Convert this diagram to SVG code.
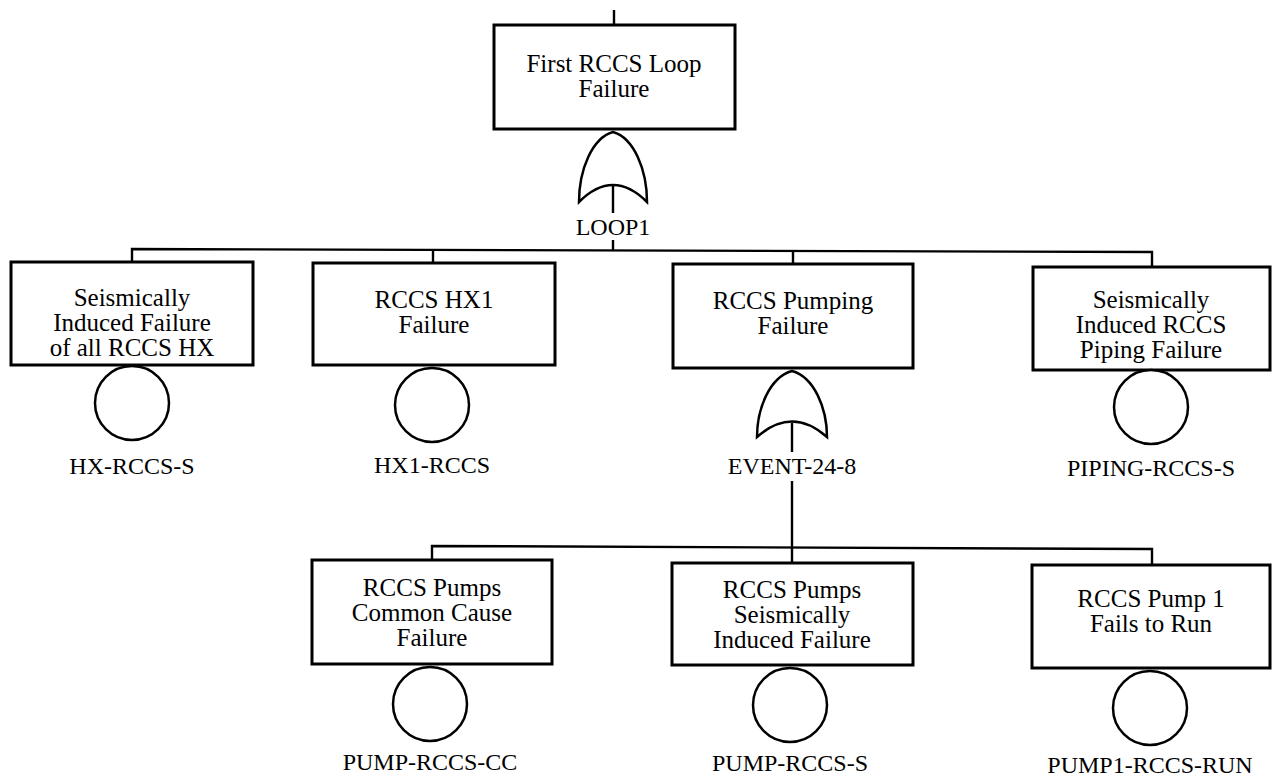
<svg xmlns="http://www.w3.org/2000/svg" width="1272" height="781" viewBox="0 0 1272 781">
<style>
.box{fill:#fff;stroke:#000;stroke-width:3}
.ev{fill:#fff;stroke:#000;stroke-width:2.5}
.gate{fill:#fff;stroke:#000;stroke-width:2.5}
.ln{fill:none;stroke:#000;stroke-width:2.4}
text{font-family:"Liberation Serif","Times New Roman",serif;font-size:25px;fill:#000;text-anchor:middle}
text.lb{font-size:24px}
</style>
<rect width="1272" height="781" fill="#fff"/>
<g id="connectors">
<line class="ln" x1="614" y1="10" x2="614" y2="25"/>
<line class="ln" x1="613" y1="185" x2="613" y2="213"/>
<line class="ln" x1="613" y1="240" x2="613" y2="250"/>
<polyline class="ln" points="132,262 132,249 1152,252 1152,267"/>
<line class="ln" x1="433" y1="249" x2="433" y2="263"/>
<line class="ln" x1="793" y1="251" x2="793" y2="264"/>
<line class="ln" x1="792" y1="423" x2="792" y2="452"/>
<line class="ln" x1="792" y1="481" x2="792" y2="547"/>
<polyline class="ln" points="432,560 432,546 1152,549 1152,565"/>
<line class="ln" x1="792" y1="547" x2="792" y2="563"/>
</g>
<g id="top">
<rect class="box" x="494" y="25" width="241" height="104"/>
<text x="614" y="72">First RCCS Loop</text>
<text x="614" y="97">Failure</text>
</g>
<g id="loop1">
<path class="gate" d="M579,202 C579,170 592,138 613,132 C634,138 647,170 647,202 Q613,168 579,202 Z"/>
<text class="lb" x="613" y="235">LOOP1</text>
</g>
<g id="b1">
<rect class="box" x="11" y="262" width="242" height="103"/>
<text x="132" y="306">Seismically</text>
<text x="132" y="331">Induced Failure</text>
<text x="132" y="356">of all RCCS HX</text>
</g>
<g id="hx-rccs-s">
<circle class="ev" cx="132" cy="403" r="37"/>
<text class="lb" x="132" y="474">HX-RCCS-S</text>
</g>
<g id="b2">
<rect class="box" x="313" y="263" width="242" height="102"/>
<text x="434" y="308">RCCS HX1</text>
<text x="434" y="333">Failure</text>
</g>
<g id="hx1-rccs">
<circle class="ev" cx="432" cy="405" r="37"/>
<text class="lb" x="432" y="473">HX1-RCCS</text>
</g>
<g id="b3">
<rect class="box" x="673" y="264" width="240" height="104"/>
<text x="793" y="309">RCCS Pumping</text>
<text x="793" y="334">Failure</text>
</g>
<g id="event-24-8">
<path class="gate" d="M757,437 C757,408 770,377 792,371 C814,377 827,408 827,437 Q792,406 757,437 Z"/>
<text class="lb" x="792" y="474">EVENT-24-8</text>
</g>
<g id="b4">
<rect class="box" x="1033" y="267" width="237" height="103"/>
<text x="1151" y="308">Seismically</text>
<text x="1151" y="333">Induced RCCS</text>
<text x="1151" y="358">Piping Failure</text>
</g>
<g id="piping-rccs-s">
<circle class="ev" cx="1151" cy="407" r="37"/>
<text class="lb" x="1151" y="476">PIPING-RCCS-S</text>
</g>
<g id="c1">
<rect class="box" x="312" y="560" width="240" height="104"/>
<text x="432" y="596">RCCS Pumps</text>
<text x="432" y="621">Common Cause</text>
<text x="432" y="646">Failure</text>
</g>
<g id="pump-rccs-cc">
<circle class="ev" cx="430" cy="704" r="37"/>
<text class="lb" x="430" y="770">PUMP-RCCS-CC</text>
</g>
<g id="c2">
<rect class="box" x="672" y="563" width="241" height="102"/>
<text x="792" y="598">RCCS Pumps</text>
<text x="792" y="623">Seismically</text>
<text x="792" y="648">Induced Failure</text>
</g>
<g id="pump-rccs-s">
<circle class="ev" cx="790" cy="705" r="37"/>
<text class="lb" x="790" y="771">PUMP-RCCS-S</text>
</g>
<g id="c3">
<rect class="box" x="1032" y="565" width="238" height="103"/>
<text x="1151" y="607">RCCS Pump 1</text>
<text x="1151" y="632">Fails to Run</text>
</g>
<g id="pump1-rccs-run">
<circle class="ev" cx="1150" cy="708" r="37"/>
<text class="lb" x="1150" y="773">PUMP1-RCCS-RUN</text>
</g>
</svg>
